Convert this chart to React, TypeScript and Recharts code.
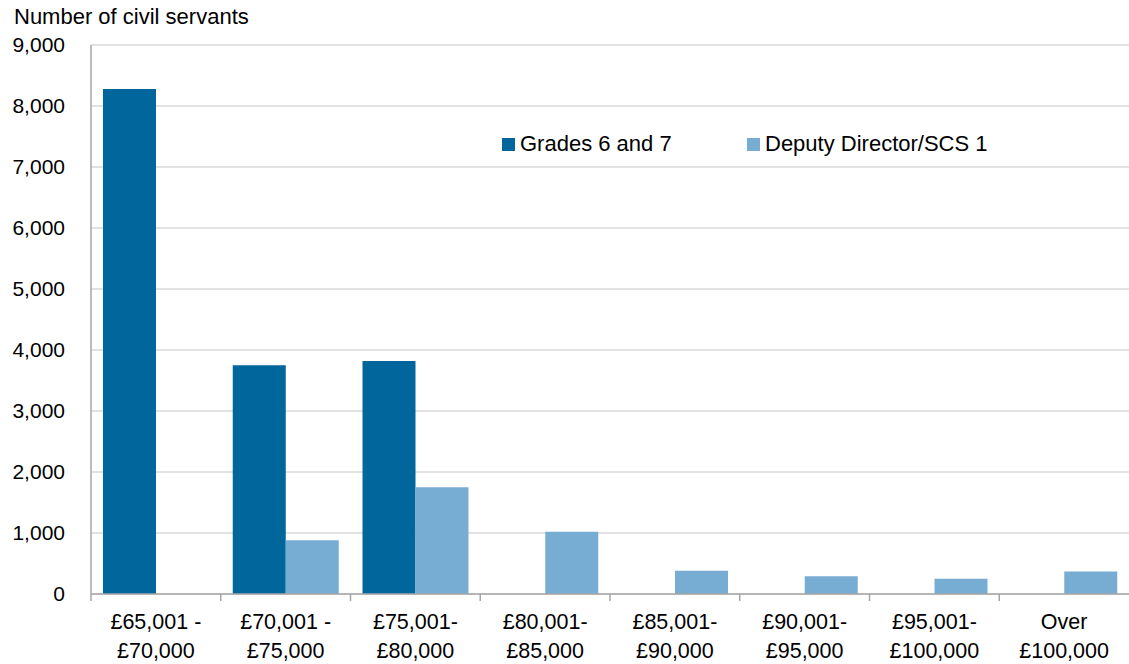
import React from "react";
import { Bar, BarChart, CartesianGrid, XAxis, YAxis } from "recharts";

const bands = [
  "£65,001 -|£70,000",
  "£70,001 -|£75,000",
  "£75,001-|£80,000",
  "£80,001-|£85,000",
  "£85,001-|£90,000",
  "£90,001-|£95,000",
  "£95,001-|£100,000",
  "Over|£100,000",
];
const grades6and7 = [8280, 3750, 3820, 0, 0, 0, 0, 0];
const deputyDirector = [0, 880, 1750, 1020, 380, 290, 250, 370];
const yTicks = [0, 1000, 2000, 3000, 4000, 5000, 6000, 7000, 8000, 9000];

const data = bands.map((band, i) => ({
  band,
  grades: grades6and7[i],
  deputy: deputyDirector[i],
}));

const FONT = "'Liberation Sans', Arial, sans-serif";
const DARK = "#00669b";
const LIGHT = "#78add3";
const AXIS = "#a6a6a6";

const W = 1129;
const H = 664;
const LEFT = 91;
const RIGHT = 0;
const BAND = (W - LEFT - RIGHT) / bands.length;

function BandTick(props: any) {
  const { x, y, payload } = props;
  const [a, b] = String(payload.value).split("|");
  const left = x - BAND / 2;
  return (
    <g>
      <line x1={left} x2={left} y1={y - 8} y2={y - 1} stroke={AXIS} strokeWidth={1.5} />
      <text x={x} y={y + 27} textAnchor="middle" fontSize={21.5} fill="#000" fontFamily={FONT}>
        <tspan x={x} dy={0}>{a}</tspan>
        <tspan x={x} dy={29}>{b}</tspan>
      </text>
    </g>
  );
}

function LegendBox() {
  const items = [
    { label: "Grades 6 and 7", color: DARK, width: 245 },
    { label: "Deputy Director/SCS 1", color: LIGHT, width: 260 },
  ];
  return (
    <div
      style={{
        position: "absolute",
        top: 131,
        left: 502,
        display: "flex",
        fontFamily: FONT,
        fontSize: 22,
        color: "#000",
      }}
    >
      {items.map((it) => (
        <div key={it.label} style={{ display: "flex", alignItems: "center", width: it.width }}>
          <span style={{ width: 13, height: 13, background: it.color, display: "inline-block", marginRight: 5 }} />
          <span>{it.label}</span>
        </div>
      ))}
    </div>
  );
}

export default function App() {
  return (
    <div style={{ position: "absolute", left: 0, top: 0, width: W, height: H, background: "#fff" }}>
      <div
        style={{
          position: "absolute",
          left: 14,
          top: 4,
          fontFamily: FONT,
          fontSize: 22,
          color: "#000",
        }}
      >
        Number of civil servants
      </div>
      <BarChart
        width={W}
        height={H}
        data={data}
        margin={{ top: 45, right: RIGHT, bottom: 0, left: 0 }}
        barCategoryGap={12}
        barGap={0}
      >
        <CartesianGrid vertical={false} stroke="#d9d9d9" strokeWidth={1.5} />
        <XAxis
          dataKey="band"
          interval={0}
          height={70}
          axisLine={{ stroke: AXIS, strokeWidth: 1.5 }}
          tickLine={false}
          tick={<BandTick />}
        />
        <YAxis
          width={LEFT}
          domain={[0, 9000]}
          ticks={yTicks}
          interval={0}
          tickFormatter={(v: number) => v.toLocaleString("en-GB")}
          axisLine={{ stroke: AXIS, strokeWidth: 1.5 }}
          tickLine={false}
          tickMargin={20}
          tick={{ fontSize: 21, fill: "#000", fontFamily: FONT }}
        />
        <Bar dataKey="grades" name="Grades 6 and 7" fill={DARK} isAnimationActive={false} />
        <Bar dataKey="deputy" name="Deputy Director/SCS 1" fill={LIGHT} isAnimationActive={false} />
      </BarChart>
      <LegendBox />
    </div>
  );
}
